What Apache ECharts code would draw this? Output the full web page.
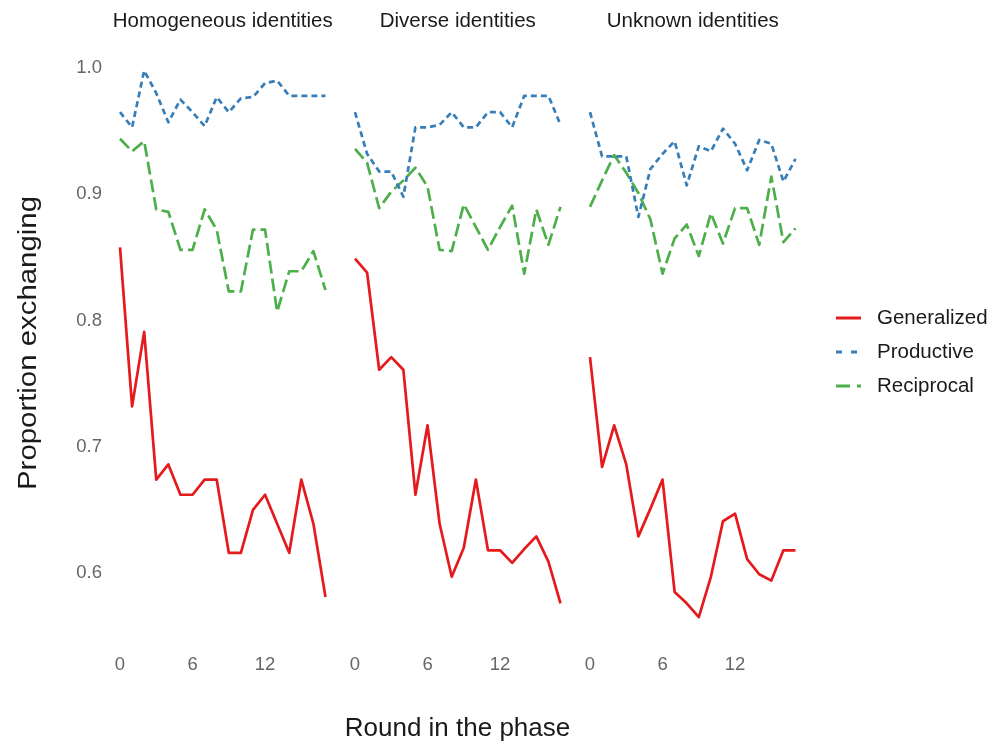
<!DOCTYPE html>
<html>
<head>
<meta charset="utf-8">
<script src="https://cdn.jsdelivr.net/npm/echarts@6/dist/echarts.min.js"></script>
<style>
  html, body { margin: 0; padding: 0; background: #ffffff; }
  #chart { width: 994px; height: 744px; }
</style>
</head>
<body>
<div id="chart"></div>
<script>
// Rounds within each phase
var rounds = [0,1,2,3,4,5,6,7,8,9,10,11,12,13,14,15,16,17];
var xTicks = [0, 6, 12];
var yTicks = [0.6, 0.7, 0.8, 0.9, 1.0];

var panelTitles = ['Homogeneous identities', 'Diverse identities', 'Unknown identities'];
var seriesNames = ['Generalized', 'Productive', 'Reciprocal'];

// Homogeneous identities
var homGeneralized = [0.858,0.732,0.791,0.674,0.686,0.662,0.662,0.674,0.674,0.616,0.616,0.650,0.662,0.639,0.616,0.674,0.639,0.581];
var homProductive  = [0.965,0.953,0.998,0.980,0.957,0.975,0.965,0.954,0.977,0.965,0.976,0.977,0.988,0.990,0.978,0.978,0.978,0.978];
var homReciprocal  = [0.944,0.934,0.942,0.888,0.886,0.856,0.856,0.888,0.872,0.823,0.823,0.872,0.872,0.807,0.839,0.839,0.855,0.824];

// Diverse identities
var divGeneralized = [0.849,0.838,0.761,0.771,0.761,0.662,0.717,0.639,0.597,0.620,0.674,0.618,0.618,0.608,0.619,0.629,0.609,0.576];
var divProductive  = [0.965,0.932,0.918,0.918,0.898,0.953,0.953,0.955,0.965,0.953,0.953,0.965,0.965,0.953,0.978,0.978,0.978,0.955];
var divReciprocal  = [0.936,0.925,0.889,0.902,0.911,0.921,0.906,0.856,0.855,0.892,0.874,0.856,0.874,0.891,0.837,0.888,0.860,0.890];

// Unknown identities
var unkGeneralized = [0.771,0.684,0.717,0.686,0.629,0.651,0.674,0.585,0.576,0.565,0.597,0.641,0.647,0.611,0.599,0.594,0.618,0.618];
var unkProductive  = [0.965,0.930,0.930,0.930,0.882,0.920,0.932,0.942,0.907,0.938,0.934,0.952,0.940,0.919,0.943,0.940,0.910,0.928];
var unkReciprocal  = [0.890,0.911,0.931,0.917,0.901,0.880,0.837,0.865,0.876,0.851,0.885,0.861,0.889,0.889,0.860,0.914,0.862,0.873];

var panels = [
  [homGeneralized, homProductive, homReciprocal],
  [divGeneralized, divProductive, divReciprocal],
  [unkGeneralized, unkProductive, unkReciprocal]
];

var colors = ['#E41A1C', '#377EB8', '#4DAF4A'];
var dashes = ['solid', [6, 4], [13, 5]];
var keyDashes = [null, [6, 9], [14, 7]];

var FONT = '"Liberation Sans", Arial, sans-serif';
var TEXT_DARK = '#1a1a1a';
var TEXT_TICK = '#666666';
var panelLeft = [120, 355, 590];
var panelWidth = 205.5;
var plotTop = 68;
var plotHeight = 505;

var grids = [], xAxes = [], yAxes = [], series = [], graphics = [];

panelLeft.forEach(function (left, p) {
  grids.push({ left: left, top: plotTop, width: panelWidth, height: plotHeight });
  xAxes.push({
    type: 'value', gridIndex: p, min: 0, max: 17, interval: 6,
    axisLine: { show: false }, axisTick: { show: false }, splitLine: { show: false },
    axisLabel: {
      margin: 82, color: TEXT_TICK, fontSize: 18.5, fontFamily: FONT,
      customValues: xTicks
    }
  });
  yAxes.push({
    type: 'value', gridIndex: p, min: 0.6, max: 1.0, interval: 0.1,
    axisLine: { show: false }, axisTick: { show: false }, splitLine: { show: false },
    axisLabel: {
      show: p === 0, margin: 18, color: TEXT_TICK, fontSize: 18.5, fontFamily: FONT,
      customValues: yTicks,
      formatter: function (v) { return v.toFixed(1); }
    }
  });
  // Facet strip label
  graphics.push({
    type: 'text',
    x: left + panelWidth / 2, y: 21,
    style: {
      text: panelTitles[p], font: '20.5px ' + FONT, fill: TEXT_DARK,
      align: 'center', verticalAlign: 'middle'
    }
  });
  panels[p].forEach(function (vals, s) {
    series.push({
      name: seriesNames[s],
      type: 'line',
      xAxisIndex: p, yAxisIndex: p,
      data: rounds.map(function (r, i) { return [r, vals[i]]; }),
      showSymbol: false, symbol: 'none',
      clip: false,
      z: 3 - s,
      lineStyle: { color: colors[s], width: 2.7, type: dashes[s], cap: 'butt', join: 'round' },
      itemStyle: { color: colors[s] }
    });
  });
});

// Horizontal axis title
graphics.push({
  type: 'text',
  x: 457.5, y: 729,
  style: {
    text: 'Round in the phase', font: '26px ' + FONT, fill: TEXT_DARK,
    align: 'center', verticalAlign: 'middle'
  }
});

// Vertical axis title
graphics.push({
  type: 'text',
  x: 29, y: 343, rotation: Math.PI / 2, scaleX: 1.13,
  style: {
    text: 'Proportion exchanging', font: '26px ' + FONT, fill: TEXT_DARK,
    align: 'center', verticalAlign: 'middle'
  }
});

// Legend keys and labels
seriesNames.forEach(function (name, s) {
  var y = 318 + s * 34;
  graphics.push({
    type: 'line',
    shape: { x1: 836, y1: y, x2: 861, y2: y },
    style: { stroke: colors[s], lineWidth: 3, lineDash: keyDashes[s], lineCap: 'butt' }
  });
  graphics.push({
    type: 'text',
    x: 877, y: y,
    style: {
      text: name, font: '20.5px ' + FONT, fill: TEXT_DARK,
      align: 'left', verticalAlign: 'middle'
    }
  });
});

var chart = echarts.init(document.getElementById('chart'), null, { renderer: 'canvas' });
chart.setOption({
  backgroundColor: '#ffffff',
  animation: false,
  graphic: graphics,
  grid: grids,
  xAxis: xAxes,
  yAxis: yAxes,
  series: series
});
</script>
</body>
</html>
